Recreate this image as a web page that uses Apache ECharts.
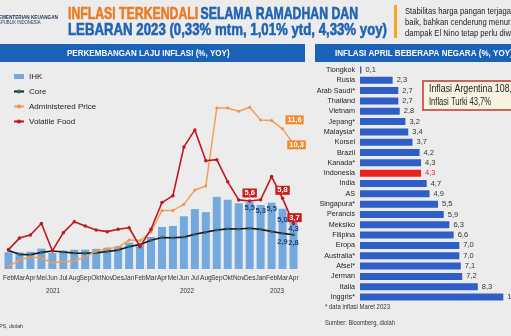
<!DOCTYPE html>
<html><head><meta charset="utf-8">
<script src="https://cdn.jsdelivr.net/npm/echarts@6/dist/echarts.min.js"></script>
<style>html,body{margin:0;padding:0;background:#ececec}#c{width:511px;height:336px}</style>
</head><body><div id="c"></div>
<script>
// ---- data ----
const months = ['Feb','Mar','Apr','Mei','Jun','Jul','Aug','Sep','Okt','Nov','Des',
  'Jan','Feb','Mar','Apr','Mei','Jun','Jul','Aug','Sep','Okt','Nov','Des',
  'Jan','Feb','Mar','Apr'];
const years = ['2021','2022','2023'];
const ihk = [1.38,1.37,1.42,1.68,1.33,1.52,1.59,1.60,1.66,1.75,1.87,
  2.18,2.06,2.64,3.47,3.55,4.35,4.94,4.69,5.95,5.71,5.42,5.51,
  5.28,5.47,4.97,4.33];
const core = [1.53,1.21,1.18,1.37,1.49,1.40,1.31,1.30,1.33,1.44,1.56,
  1.84,2.03,2.37,2.60,2.58,2.63,2.86,3.04,3.21,3.31,3.30,3.36,
  3.27,3.09,2.94,2.83];
const administered = [0.2,0.74,1.0,0.9,0.52,0.6,0.66,1.0,1.48,1.68,1.79,
  2.4,2.35,3.05,4.83,4.83,5.33,6.51,6.84,13.28,13.28,13.01,13.34,
  12.28,12.24,11.56,10.32];
const volatileFood = [1.6,2.55,2.8,3.75,1.5,3.0,3.9,3.55,3.22,3.08,3.28,
  3.4,1.84,3.28,5.48,6.05,10.07,11.47,8.93,9.02,7.19,5.70,5.61,
  5.71,7.62,5.83,3.74];
const ihkLabelIdx = [22,23,24,25,26];
const coreLabelIdx = [25,26];
const apLabelIdx = [25,26];
const vfLabelIdx = [22,25,26];

const countries = ['Tiongkok','Rusia','Arab Saudi*','Thailand','Vietnam','Jepang*','Malaysia*','Korsel',
  'Brazil','Kanada*','Indonesia','India','AS','Singapura*','Perancis','Meksiko','Filipina','Eropa',
  'Australia*','Afsel*','Jerman','Italia','Inggris*'];
const countryInflation = [0.1,2.3,2.7,2.7,2.8,3.2,3.4,3.7,4.2,4.3,4.3,4.7,4.9,5.5,5.9,6.3,6.6,7.0,7.0,7.1,7.2,8.3,10.1];
const highlightCountry = 'Indonesia';

// ---- helpers ----
const FONT = "'Liberation Sans', Arial, sans-serif";
const fmt = v => Number(v).toFixed(1).replace('.', ',');
const mctx = document.createElement('canvas').getContext('2d');
function fitScale(text, size, bold, target){
  mctx.font = (bold ? 'bold ' : '') + size + "px 'Liberation Sans', Arial, sans-serif";
  return target / mctx.measureText(text).width;
}
function T(text, x, y, size, color, opts){
  opts = opts || {};
  const s = opts.fit ? fitScale(opts.fitText || text, size, opts.bold, opts.fit) : (opts.scale || 1);
  const st = {text:text, fill:color, fontSize:size,
    fontWeight:opts.bold ? 'bold' : 'normal', fontFamily:FONT, align:opts.align || 'left', verticalAlign:'middle'};
  if (opts.heavy) { st.stroke = color; st.lineWidth = opts.heavy; }
  return {type:'text', x:x, y:y, scaleX:s, z:10, style:st};
}

const chart = echarts.init(document.getElementById('c'), null, {renderer:'canvas'});

const ihkData = ihk.map((v,i) => {
  if (!ihkLabelIdx.includes(i)) return v;
  const extra = i === 25 ? 5 : (i === 26 ? 6 : 0);
  return {value:v, label:{show:true, position:'insideTop', distance:2, offset:[0,extra],
    formatter:p=>fmt(p.value), color:'#1b3f7a', fontSize:7.5, fontWeight:'bold', fontFamily:FONT}};
});
const coreData = core.map((v,i) => coreLabelIdx.includes(i) ? {value:v, label:{show:true, position:'bottom', distance:3,
  formatter:p=>fmt(p.value), color:'#1b3f7a', fontSize:7.5, fontWeight:'bold', fontFamily:FONT}} : v);
const apOffsets = {25:[12,-9], 26:[3,1]};
const apData = administered.map((v,i) => apLabelIdx.includes(i) ? {value:v, label:{show:true, position:'inside',
  offset:apOffsets[i], formatter:p=>fmt(p.value), color:'#fff', backgroundColor:'#f08a2c',
  padding:[1,2,0,2], fontSize:7.5, fontWeight:'bold', fontFamily:FONT}} : v);
const vfOffsets = {22:[0,-8], 25:[0,-8], 26:[1,-6]};
const vfData = volatileFood.map((v,i) => vfLabelIdx.includes(i) ? {value:v, label:{show:true, position:'inside',
  offset:vfOffsets[i], formatter:p=>fmt(p.value), color:'#fff', backgroundColor:'#c81e1e',
  padding:[1,2,0,2], fontSize:7.5, fontWeight:'bold', fontFamily:FONT}} : v);

const countryData = countries.map((c,i) => c === highlightCountry ?
  {value:countryInflation[i], itemStyle:{color:'#e8201e'}, label:{color:'#e8201e'}} : countryInflation[i]);

const titleScale1 = fitScale('INFLASI TERKENDALI SELAMA RAMADHAN DAN', 17, true, 291);
const noteScale = fitScale('Stabilitas harga pangan terjaga', 9, false, 106);
const hdrScale = fitScale('INFLASI APRIL BEBERAPA NEGARA (%, YOY', 9.5, true, 175);

const option = {
  backgroundColor:'#ececec',
  animation:false,
  textStyle:{fontFamily:FONT},
  legend:{
    orient:'vertical', left:13, top:71, padding:0, itemWidth:10, itemHeight:5, itemGap:4,
    textStyle:{fontSize:8, color:'#222', fontFamily:FONT, lineHeight:11},
    data:[{name:'IHK', icon:'rect'}, 'Core', 'Administered Price', 'Volatile Food']
  },
  grid:[
    {left:-2, top:75, width:301, height:194},
    {left:360, top:64.8, width:149, height:237.4}
  ],
  xAxis:[
    {type:'category', gridIndex:0, data:months, axisLine:{show:false}, axisTick:{show:false},
      axisLabel:{interval:0, fontSize:6.5, color:'#333', margin:6, fontFamily:FONT, hideOverlap:false}},
    {type:'value', gridIndex:1, min:0, max:10.5, show:false}
  ],
  yAxis:[
    {type:'value', gridIndex:0, min:0, max:16, show:false},
    {type:'category', gridIndex:1, data:countries, inverse:true, axisLine:{show:false}, axisTick:{show:false},
      axisLabel:{interval:0, fontSize:7.2, color:'#222', margin:5, fontFamily:FONT}}
  ],
  series:[
    {name:'IHK', type:'bar', xAxisIndex:0, yAxisIndex:0, data:ihkData, barWidth:8,
      itemStyle:{color:'#74a9e0'}, z:1},
    {name:'Core', type:'line', xAxisIndex:0, yAxisIndex:0, data:coreData, symbol:'circle', symbolSize:3,
      lineStyle:{color:'#1a1a1a', width:1.6}, itemStyle:{color:'#2d6a5a'}, z:3},
    {name:'Administered Price', type:'line', xAxisIndex:0, yAxisIndex:0, data:apData, symbol:'circle', symbolSize:3,
      lineStyle:{color:'#f0a05a', width:1.5}, itemStyle:{color:'#f09050'}, z:4},
    {name:'Volatile Food', type:'line', xAxisIndex:0, yAxisIndex:0, data:vfData, symbol:'circle', symbolSize:3.5,
      lineStyle:{color:'#c0161d', width:1.6}, itemStyle:{color:'#c0161d'}, z:5},
    {name:'Negara', type:'bar', xAxisIndex:1, yAxisIndex:1, data:countryData, barWidth:7,
      itemStyle:{color:'#2f5fc6'},
      label:{show:true, position:'right', distance:4, fontSize:7.5, color:'#333', fontFamily:FONT,
        formatter:p=>fmt(p.value)}}
  ],
  graphic:[
    {type:'rect', shape:{x:0,y:44,width:305,height:18}, style:{fill:'#1a62b8'}, z:0},
    {type:'rect', shape:{x:315,y:44,width:200,height:18}, style:{fill:'#1a62b8'}, z:0},
    T('PERKEMBANGAN LAJU INFLASI (%, YOY)', 67, 53, 9.5, '#fff', {bold:true, scale:hdrScale}),
    T('INFLASI APRIL BEBERAPA NEGARA (%, YOY)', 335, 53, 9.5, '#fff', {bold:true, scale:hdrScale}),
    T('KEMENTERIAN KEUANGAN', 58, 17, 5.5, '#1f2f55', {bold:true, align:'right', scale:0.85}),
    T('REPUBLIK INDONESIA', -5, 23, 5, '#1f2f55', {scale:0.85}),
    {type:'text', x:68, y:14, scaleX:titleScale1, z:10, style:{text:'{o|INFLASI TERKENDALI} {b|SELAMA RAMADHAN DAN}', verticalAlign:'middle',
      rich:{o:{fill:'#ec7a24', stroke:'#ec7a24', lineWidth:0.6, fontSize:17, fontWeight:'bold', fontFamily:FONT},
            b:{fill:'#1f63b3', stroke:'#1f63b3', lineWidth:0.6, fontSize:17, fontWeight:'bold', fontFamily:FONT}}}},
    T('LEBARAN 2023 (0,33% mtm, 1,01% ytd, 4,33% yoy)', 68, 30, 17, '#1f63b3', {bold:true, fit:319, heavy:0.6}),
    {type:'rect', shape:{x:394,y:5,width:3,height:33}, style:{fill:'#f5a623'}},
    T('Stabilitas harga pangan terjaga', 405, 11.5, 9, '#222', {scale:noteScale}),
    T('baik, bahkan cenderung menurun.', 405, 23, 9, '#222', {scale:noteScale}),
    T('dampak El Nino tetap perlu diwaspadai', 405, 34, 9, '#222', {scale:noteScale}),
    T(years[0], 53, 291, 7, '#333', {align:'center', scale:0.9}),
    T(years[1], 187, 291, 7, '#333', {align:'center', scale:0.9}),
    T(years[2], 277, 291, 7, '#333', {align:'center', scale:0.9}),
    T('Sumber: BPS, diolah', 23, 326, 5.5, '#333', {align:'right', scale:0.95}),
    T('* data inflasi Maret 2023', 325, 307, 6.5, '#333', {fit:65}),
    T('Sumber: Bloomberg, diolah', 325, 323, 6.5, '#333', {fit:70}),
    {type:'rect', shape:{x:423,y:81,width:100,height:29}, style:{fill:'#fbf3e1', stroke:'#c0392b', lineWidth:1.5}},
    T('Inflasi Argentina 108,8%', 429, 89.5, 10, '#222', {fit:83, fitText:'Inflasi Argentina 108,'}),
    T('Inflasi Turki 43,7%', 429, 102, 10, '#222', {fit:62})
  ]
};
chart.setOption(option);
</script></body></html>
